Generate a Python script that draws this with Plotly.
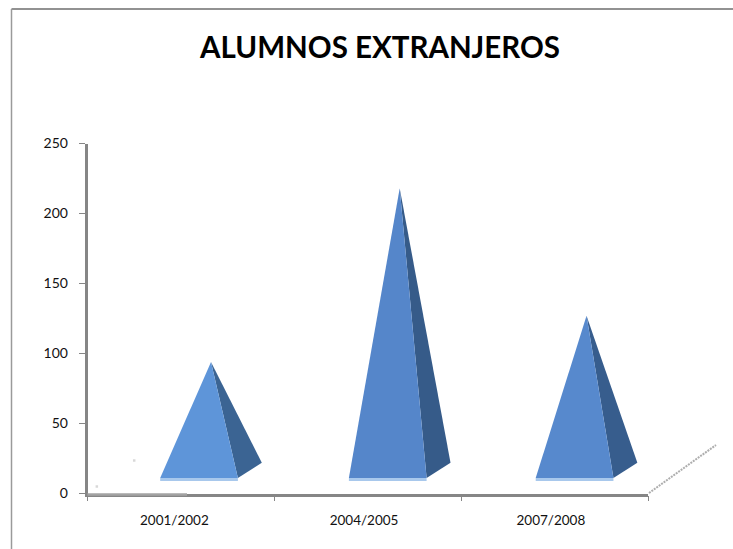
import plotly.graph_objects as go

# values (apex of each pyramid)
years = ['2001/2002', '2004/2005', '2007/2008']
alumnos = [94, 218, 127]
y_ticks = [0, 50, 100, 150, 200, 250]

W, H = 733, 549
AXIS = '#868686'
FRONT = ['#5e95d9', '#5586ca', '#5789cd']
SIDE = ['#3b6493', '#365b89', '#375d8d']
STRIP = '#a8c8ec'

# pyramid geometry, in axis units
CENTRES = [0.99, 2, 3]
SHIFT = 0.107      # base centre, right of the category centre
HALF = 0.208       # half base width
APEX = 0.171       # apex, right of the category centre
DEPTH_X = 0.128    # back corner offset
BASE = 11          # front edge height
BACK = 22

fig = go.Figure()

for i, (year, val) in enumerate(zip(years, alumnos)):
    c = CENTRES[i]
    left = c + SHIFT - HALF
    right = c + SHIFT + HALF
    # side face
    fig.add_trace(go.Scatter(
        x=[right, right + DEPTH_X, c + APEX, right],
        y=[BASE, BACK, val, BASE],
        mode='lines', fill='toself', fillcolor=SIDE[i],
        line=dict(width=0), hoverinfo='skip', showlegend=False
    ))
    # front face
    fig.add_trace(go.Scatter(
        x=[left, right, c + APEX, left],
        y=[BASE, BASE, val, BASE],
        mode='lines', fill='toself', fillcolor=FRONT[i],
        line=dict(width=0), name=year, showlegend=False
    ))
    # lit bottom edge
    fig.add_trace(go.Scatter(
        x=[left, right], y=[10, 10],
        mode='lines', line=dict(color=STRIP, width=3),
        hoverinfo='skip', showlegend=False
    ))

# small stray specks in the floor area
fig.add_trace(go.Scatter(
    x=[0.55, 0.75], y=[5, 23.5], mode='markers',
    marker=dict(symbol='square', size=2.5, color='#d8d8d8'),
    hoverinfo='skip', showlegend=False
))


def page_line(x0, y0, x1, y1, color, width, dash='solid'):
    # chart furniture outside the axes, given in page pixels
    return dict(type='line', xref='paper', yref='paper',
                x0=x0 / W, x1=x1 / W, y0=1 - y0 / H, y1=1 - y1 / H,
                line=dict(color=color, width=width, dash=dash))


fig.update_layout(
    width=W, height=H,
    margin=dict(l=0, r=0, t=0, b=0),
    paper_bgcolor='white', plot_bgcolor='white',
    font=dict(family='Lato', size=14, color='#111111'),
    title=dict(
        text='<b>ALUMNOS EXTRANJEROS</b>',
        font=dict(family='Lato', size=29.5, color='black'),
        x=380 / W, xanchor='center', y=1 - 48 / H, yanchor='middle'
    ),
    xaxis=dict(
        automargin=False,
        domain=[87.5 / W, 648 / W], range=[0.5, 3.5],
        # labels sit slightly left of the true category centres in the source
        tickmode='array', tickvals=[0.965, 1.98, 2.98], ticktext=years,
        ticks='', showgrid=False, zeroline=False,
        showline=True, linecolor=AXIS, linewidth=2.5,
        tickfont=dict(size=13.5), ticklabelstandoff=13,
        minor=dict(tickmode='array', tickvals=[0.5, 1.5, 2.5, 3.5], ticks='outside',
                   ticklen=5, tickcolor=AXIS, tickwidth=1, showgrid=False)
    ),
    yaxis=dict(
        automargin=False,
        domain=[1 - 493.5 / H, 1 - 143.5 / H], range=[0, 250],
        tickmode='array', tickvals=y_ticks,
        ticks='outside', ticklen=6, tickcolor=AXIS, tickwidth=1,
        showgrid=False, zeroline=False,
        showline=True, linecolor=AXIS, linewidth=2.5,
        tickfont=dict(size=14), ticklabelstandoff=8
    ),
    shapes=[
        # chart frame
        page_line(11.5, 9, W, 9, '#929292', 2),
        page_line(11.5, 9, 11.5, H, '#9a9a9a', 1.5),
        # lighter start of the floor line
        page_line(87.5, 494.5, 187, 494.5, '#a3a3a3', 2.5),
        # depth edge of the floor
        page_line(649, 493, 716, 445, '#aeaeae', 2, '2px,1px'),
    ]
)

# browser default body margin would push the figure off by 8px
fig.write_html("out.html", config=dict(displayModeBar=False),
               post_script="document.body.style.margin='0';")
